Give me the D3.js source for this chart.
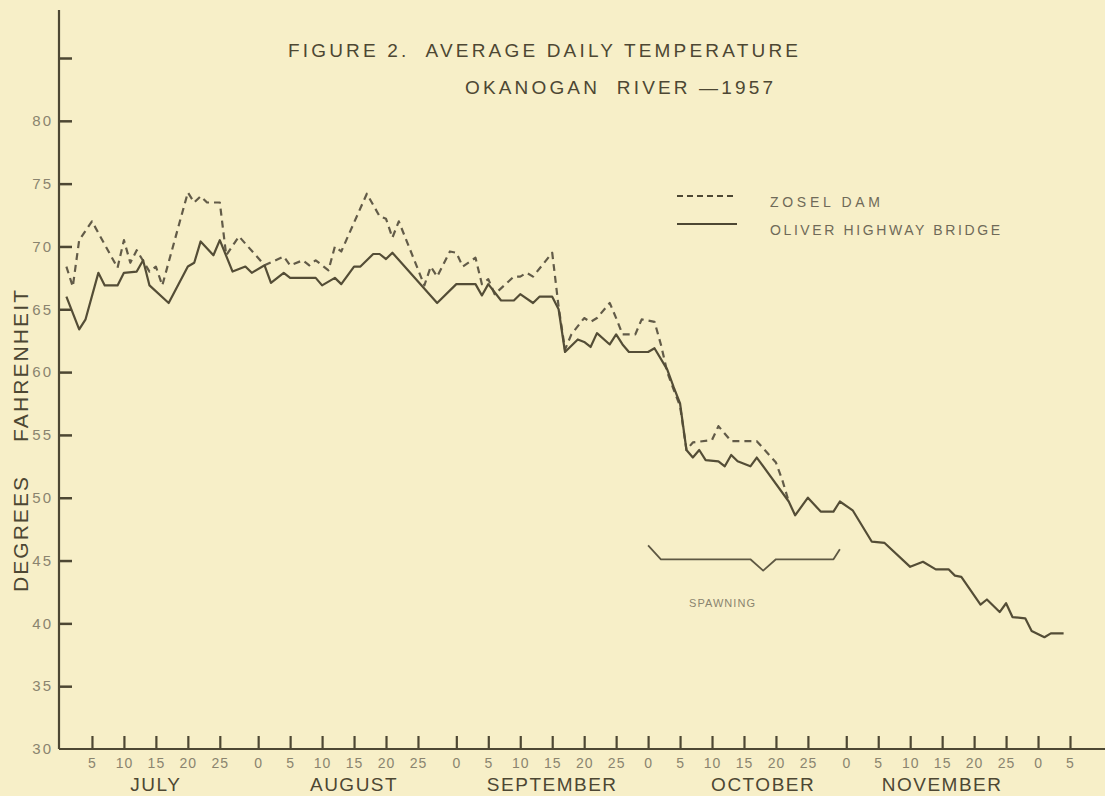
<!DOCTYPE html>
<html>
<head>
  <title>Average Daily Temperature - Okanogan River 1957</title>
  <script src="https://d3js.org/d3.v7.min.js"></script>
  <style>
    body { margin: 0; background: #f7efc8; }
    svg { display: block; font-family: "Liberation Sans", "DejaVu Sans", sans-serif; }
    .line { fill: none; stroke-linejoin: round; }
  </style>
</head>
<body>
  <div id="chart"></div>

  <script>
    // Readings are month-day in 1957, values in degrees F
    const oliverDates = ["07-01","07-03","07-04","07-06","07-07","07-09","07-10","07-12","07-13","07-14",
      "07-17","07-20","07-21","07-22","07-24","07-25","07-27","07-29","07-30","08-01","08-02","08-04",
      "08-05","08-09","08-10","08-12","08-13","08-15","08-16","08-18","08-19","08-20","08-21","08-28",
      "08-31","09-03","09-04","09-05","09-07","09-09","09-10","09-12","09-13","09-15","09-16","09-17",
      "09-19","09-20","09-21","09-22","09-24","09-25","09-26","09-27","09-30","10-01","10-03","10-04",
      "10-05","10-06","10-07","10-08","10-09","10-11","10-12","10-13","10-14","10-16","10-17","10-22",
      "10-23","10-25","10-27","10-29","10-30","11-01","11-04","11-06","11-10","11-12","11-14","11-16",
      "11-17","11-18","11-21","11-22","11-24","11-25","11-26","11-28","11-29","12-01","12-02","12-04"];
    const oliverTemps = [66.0,63.4,64.2,67.9,66.9,66.9,67.9,68.0,68.9,66.9,
      65.5,68.4,68.7,70.4,69.3,70.5,68.0,68.4,67.9,68.5,67.1,67.9,
      67.5,67.5,66.9,67.5,67.0,68.4,68.4,69.4,69.4,69.0,69.5,65.5,
      67.0,67.0,66.1,67.0,65.7,65.7,66.2,65.5,66.0,66.0,65.0,61.6,
      62.6,62.4,62.0,63.1,62.2,63.0,62.2,61.6,61.6,61.9,60.2,58.8,
      57.5,53.8,53.2,53.8,53.0,52.9,52.5,53.4,52.9,52.5,53.2,49.7,
      48.6,50.0,48.9,48.9,49.7,49.0,46.5,46.4,44.5,44.9,44.3,44.3,
      43.8,43.7,41.5,41.9,40.9,41.6,40.5,40.4,39.4,38.9,39.2,39.2];

    const zoselDates = ["07-01","07-02","07-03","07-05","07-09","07-10","07-11","07-12","07-14","07-15",
      "07-16","07-20","07-21","07-22","07-23","07-25","07-26","07-28","08-01","08-04","08-05","08-07",
      "08-08","08-09","08-11","08-12","08-13","08-17","08-19","08-20","08-21","08-22","08-26","08-27",
      "08-28","08-30","08-31","09-01","09-03","09-04","09-05","09-06","09-09","09-10","09-11","09-12",
      "09-15","09-16","09-17","09-18","09-20","09-21","09-22","09-24","09-25","09-26","09-28","09-29",
      "10-01","10-02","10-03","10-04","10-05","10-06","10-07","10-10","10-11","10-13","10-17","10-20",
      "10-21","10-22"];
    const zoselTemps = [68.4,66.8,70.5,72.0,68.3,70.5,68.7,69.7,68.0,68.4,
      66.9,74.3,73.5,74.0,73.5,73.5,69.3,70.8,68.5,69.2,68.5,68.9,
      68.5,68.9,68.1,70.0,69.6,74.2,72.4,72.2,70.7,72.0,66.9,68.4,
      67.6,69.6,69.5,68.4,69.1,67.0,67.4,66.2,67.6,67.6,67.9,67.6,
      69.5,65.2,61.8,63.0,64.3,64.0,64.3,65.5,64.3,63.0,63.0,64.2,
      64.0,62.2,60.0,58.6,57.3,53.8,54.4,54.6,55.7,54.5,54.5,52.8,
      51.4,49.7];

    // spawning period bracket
    const spawnDates = ["09-30","10-02","10-16","10-18","10-20","10-29","10-30"];
    const spawnTemps = [46.2,45.1,45.1,44.2,45.1,45.1,45.9];

    const yTicks = [30,35,40,45,50,55,60,65,70,75,80,85];
    const xTickDates = ["07-05","07-10","07-15","07-20","07-25","07-31",
      "08-05","08-10","08-15","08-20","08-25","08-31",
      "09-05","09-10","09-15","09-20","09-25","09-30",
      "10-05","10-10","10-15","10-20","10-25","10-31",
      "11-05","11-10","11-15","11-20","11-25","11-30","12-05"];
    const months = ["JULY","AUGUST","SEPTEMBER","OCTOBER","NOVEMBER"];
    const monthLabelDates = ["07-15","08-15","09-15","10-18","11-15"];

    const seriesNames = ["ZOSEL DAM","OLIVER HIGHWAY BRIDGE"];

    const parse = s => d3.timeParse("%Y-%m-%d")("1957-" + s);
    const W = 1105, H = 796;
    const ink = "#4d4733", grey = "#8a846f";

    const svg = d3.select("#chart").append("svg")
      .attr("width", W).attr("height", H);

    const x = d3.scaleTime()
      .domain([parse("06-30"), parse("12-05")])
      .range([60, 1070]);
    const y = d3.scaleLinear()
      .domain([30, 85])
      .range([749, 58]);

    // Y axis
    const yAxis = svg.append("g")
      .attr("transform", "translate(59,0)")
      .call(d3.axisLeft(y).tickValues(yTicks).tickSize(-13).tickPadding(9)
        .tickFormat(d => d === 85 ? "" : d));
    yAxis.select(".domain").remove();
    yAxis.selectAll(".tick line").attr("stroke", ink).attr("stroke-width", 2.5)
      .filter(d => d === 30).remove();
    yAxis.selectAll(".tick text").attr("fill", grey).style("font-size", "15px")
      .style("letter-spacing", "2px").attr("x", -6);
    svg.append("line").attr("x1", 59).attr("x2", 59).attr("y1", 10).attr("y2", y(30))
      .attr("stroke", ink).attr("stroke-width", 2.2);

    // X axis
    const lastDay = d => d3.timeDay.offset(d, 1).getDate() === 1;
    const xAxis = svg.append("g")
      .attr("transform", `translate(0,${y(30)})`)
      .call(d3.axisBottom(x).tickValues(xTickDates.map(parse)).tickSize(-13).tickPadding(9)
        .tickFormat(d => lastDay(d) ? "0" : d.getDate()));
    xAxis.select(".domain").remove();
    xAxis.selectAll(".tick line").attr("stroke", ink).attr("stroke-width", 2.2);
    xAxis.selectAll(".tick text").attr("fill", grey).style("font-size", "14px")
      .style("letter-spacing", "1px");
    svg.append("line").attr("x1", 59).attr("x2", W).attr("y1", y(30)).attr("y2", y(30))
      .attr("stroke", ink).attr("stroke-width", 2.2);

    svg.append("g").selectAll("text")
      .data(months)
      .join("text")
        .attr("x", (m, i) => x(parse(monthLabelDates[i])))
        .attr("y", 791)
        .attr("text-anchor", "middle")
        .attr("fill", ink)
        .style("font-size", "19px")
        .style("letter-spacing", "1.5px")
        .text(m => m);

    // lines
    const line = d3.line().x(d => x(d[0])).y(d => y(d[1]));
    const zip = (ds, vs) => ds.map((d, i) => [parse(d), vs[i]]);

    svg.append("path").attr("class", "line")
      .attr("d", line(zip(zoselDates, zoselTemps)))
      .attr("stroke", "#625b48").attr("stroke-width", 2.2)
      .attr("stroke-dasharray", "7,5");
    svg.append("path").attr("class", "line")
      .attr("d", line(zip(oliverDates, oliverTemps)))
      .attr("stroke", "#544d36").attr("stroke-width", 2.2);
    svg.append("path").attr("class", "line")
      .attr("d", line(zip(spawnDates, spawnTemps)))
      .attr("stroke", "#5e5843").attr("stroke-width", 1.8);

    svg.append("text")
      .attr("x", 722).attr("y", 607)
      .attr("text-anchor", "middle")
      .attr("fill", grey).style("font-size", "11px")
      .attr("textLength", 66).attr("lengthAdjust", "spacing")
      .text("SPAWNING");

    // title
    svg.append("text")
      .attr("x", 288).attr("y", 57)
      .attr("fill", ink).style("font-size", "19px").style("white-space", "pre")
      .attr("textLength", 510).attr("lengthAdjust", "spacing")
      .text("FIGURE 2.  AVERAGE DAILY TEMPERATURE");
    svg.append("text")
      .attr("x", 465).attr("y", 94)
      .attr("fill", ink).style("font-size", "19px").style("white-space", "pre")
      .attr("textLength", 308).attr("lengthAdjust", "spacing")
      .text("OKANOGAN  RIVER \u20141957");

    // y label
    svg.append("text")
      .attr("transform", "translate(28,592) rotate(-90)")
      .attr("fill", ink).style("font-size", "21px")
      .attr("textLength", 115).attr("lengthAdjust", "spacing")
      .text("DEGREES");
    svg.append("text")
      .attr("transform", "translate(28,442) rotate(-90)")
      .attr("fill", ink).style("font-size", "21px")
      .attr("textLength", 152).attr("lengthAdjust", "spacing")
      .text("FAHRENHEIT");

    // legend
    const legend = svg.append("g").attr("transform", "translate(677,196)");
    seriesNames.forEach((name, i) => {
      const row = legend.append("g").attr("transform", `translate(0,${i * 28})`);
      row.append("line").attr("x1", 0).attr("x2", 60)
        .attr("stroke", ink).attr("stroke-width", 2)
        .attr("stroke-dasharray", i === 0 ? "6,4" : null);
      row.append("text")
        .attr("x", 93).attr("y", 11)
        .attr("fill", "#6f6a58").style("font-size", "14px")
        .attr("textLength", i === 0 ? 110 : 230).attr("lengthAdjust", "spacing")
        .text(name);
    });
  </script>
</body>
</html>
